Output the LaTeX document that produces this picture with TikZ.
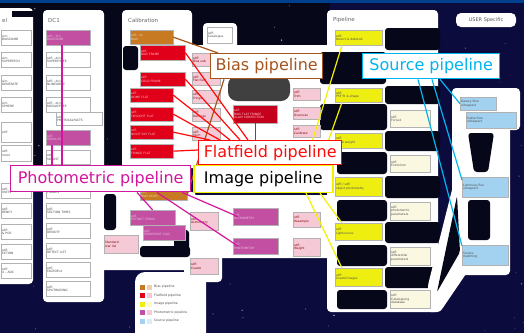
\documentclass[tikz,border=0pt]{standalone}
\usepackage{fontspec}
\setmainfont{DejaVu Sans}
\usetikzlibrary{calc}
\definecolor{bgC}{HTML}{0B0B3E}
\definecolor{cutC}{HTML}{07071A}
\definecolor{orC}{HTML}{C87A22}
\definecolor{redC}{HTML}{E0001A}
\definecolor{dredC}{HTML}{C4001C}
\definecolor{magC}{HTML}{C24FA2}
\definecolor{pinkC}{HTML}{F5CAD6}
\definecolor{yelC}{HTML}{EEEE10}
\definecolor{creamC}{HTML}{FBF8E2}
\definecolor{blueC}{HTML}{A2D2F0}
\definecolor{biasC}{HTML}{A5541C}
\definecolor{flatC}{HTML}{FF0A0A}
\definecolor{srcC}{HTML}{00B4EE}
\definecolor{photC}{HTML}{D2169E}
\definecolor{imgC}{HTML}{F2F200}
\newcommand\mybox[6]{\node[#1, minimum height=#5pt, text width=#4pt] (#2) at (#3) {#6};}
\pgfdeclarelayer{fg}
\pgfsetlayers{main,fg}
\begin{document}
\begin{tikzpicture}[x=1pt,y=-1pt,
  bx/.style={anchor=north west, draw=black!30, line width=0.3pt, inner sep=1pt, align=left, font=\fontsize{3}{3.5}\selectfont, text=black!70},
  wb/.style={bx, fill=white},
  mb/.style={bx, fill=magC, text=white!65!magC},
  rb/.style={bx, fill=redC, text=white!75!redC},
  ob/.style={bx, fill=orC, text=white!70!orC},
  pb/.style={bx, fill=pinkC, text=red!50!black},
  yb/.style={bx, fill=yelC},
  cb/.style={bx, fill=creamC},
  lb/.style={bx, fill=blueC},
  db/.style={bx, fill=dredC, text=white!80!red},
  pnl/.style={fill=white, rounded corners=4pt},
  cut/.style={fill=cutC, rounded corners=3pt},
  callout/.style={anchor=north west, draw, fill=white, line width=1.4pt, font=\fontsize{16}{18}\selectfont, inner sep=0pt},
  lead/.style={line width=1.2pt},
  hdr/.style={font=\fontsize{5.5}{6}\selectfont, text=black!60, anchor=west, inner sep=0pt}
]
\useasboundingbox (0,0) rectangle (524,333);
% background
\fill[bgC] (0,0) rectangle (524,333);
\fill[cutC] (0,0) rectangle (330,170);
\fill[blue!55!cyan!55!black] (0,0) rectangle (524,2.5);
\pgfmathsetseed{42}
\foreach \i in {1,...,150}{
  \pgfmathsetmacro\sx{rnd*524}
  \pgfmathsetmacro\sy{rnd*333}
  \pgfmathsetmacro\sr{0.3+0.6*rnd}
  \pgfmathsetmacro\so{0.25+0.6*rnd}
  \fill[white, opacity=\so] (\sx,\sy) circle[radius=\sr pt];
}
% panels
\fill[pnl] (-6,8) rectangle (33,284);
\fill[cutC] (12,11) rectangle (45,17);
\fill[pnl] (43,10) rectangle (104,302);
\fill[pnl] (122,10) rectangle (192,168);
\fill[cut] (123,46) rectangle (138,70);
\fill[pnl] (100,192) rectangle (196,270);
\fill[cut] (104,194) rectangle (116,230);
\fill[pnl] (184,45) rectangle (332,168);
\fill[pnl] (203,23) rectangle (237,50);
\fill[black!75, rounded corners=9pt] (228,76) rectangle (290,101);
\fill[pnl] (184,195) rectangle (332,258);
\fill[pnl] (184,250) rectangle (222,282);
\fill[cut] (174,230) rectangle (189,250);
\fill[cut] (140,246) rectangle (190,257);
\fill[pnl] (327,10) rectangle (438,312);
\foreach \a/\b/\c/\d in {385/28/440/50, 320/52/386/84, 385/86/440/104, 320/104/387/130, 385/131/440/151, 337/152/387/174, 385/176/440/198, 337/200/387/221, 385/222/440/243, 337/245/387/266, 385/267/440/288, 337/290/387/309}
  \fill[cut] (\a,\b) rectangle (\c,\d);
\fill[pnl] (452,88) rectangle (520,130);
\fill[pnl] (452,120) rectangle (510,275);
\fill[white, rounded corners=3pt] (428,312) -- (428,285) -- (455,178) -- (470,178) -- (470,268) -- (440,312) -- cycle;
\fill[cutC, rounded corners=2pt] (437,292) -- (457,196) -- (460,252) -- cycle;
\fill[cut] (468,133) -- (494,133) -- (488,172) -- (474,172) -- cycle;
\fill[cut] (468,200) rectangle (490,240);
\fill[white, rounded corners=10pt] (135,272) rectangle (206,345);
% headers
\node[hdr] (hL) at (2,20) {el};
\node[hdr] (hD) at (48,20) {DC1};
\node[hdr] (hC) at (128,20) {Calibration};
\node[hdr] (hP) at (333,20) {Pipeline};
\node[fill=white, rounded corners=5pt, font=\fontsize{5}{6}\selectfont, text=black!65, minimum width=60pt, minimum height=14pt, inner sep=1pt] (user) at (486,20) {USER Specific};
% left column
\mybox{wb}{L1}{1,30}{28}{15}{sim\\BIASCOMB}
\mybox{wb}{L2}{1,52}{28}{15}{sim\\SUPERTECH}
\mybox{wb}{L3}{1,75}{28}{15}{sim\\GENERATE}
\mybox{wb}{L4}{1,97}{28}{15}{sim\\SPHERE}
\mybox{wb}{L5}{1,122}{28}{20}{sdfl\\ }
\mybox{wb}{L6}{1,145}{28}{16}{sdfl\\ment}
\mybox{wb}{L7}{1,183}{28}{15}{sdfl\\UNITS}
\mybox{wb}{L8}{1,203}{28}{15}{sdfl\\RENCY}
\mybox{wb}{L9}{1,224}{28}{15}{sdfl\\\& POS}
\mybox{wb}{L10}{1,244}{28}{15}{sdfl\\ECTION}
\mybox{wb}{L11}{1,263}{28}{15}{sdfl\\4 -- ADC}
% DC1
\mybox{mb}{D1}{46,30}{42}{15}{sdfl - dc1\\BIASCOMB}
\mybox{wb}{D2}{46,52}{42}{15}{sdfl - dc1\\SUPERTHREE}
\mybox{wb}{D3}{46,75}{42}{15}{sdfl - dc1\\NLINEARIZE}
\mybox{wb}{D4}{46,97}{42}{15}{sdfl - dc1\\MOSAICPREP}
\mybox{wb}{D5}{56,112}{44}{13}{sdfl\\PHOTOCALFACTS}
\mybox{mb}{D6}{46,130}{42}{15}{sdfl\\OBSVLIST}
\mybox{wb}{D7}{46,150}{42}{14}{sdfl\\SKYLIST}
\mybox{wb}{D8}{46,183}{42}{15}{sdfl\\FRAMES}
\mybox{wb}{D9}{46,203}{42}{15}{sdfl\\SECTION TIMES}
\mybox{wb}{D10}{46,223}{42}{15}{sdfl\\DENSITY}
\mybox{wb}{D11}{46,243}{42}{15}{sdfl\\DETECT LIST}
\mybox{wb}{D12}{46,262}{42}{15}{sdfl\\FACEOFLX}
\mybox{wb}{D13}{46,281}{42}{15}{sdfl\\SPLITBIASING}
% Calibration
\mybox{ob}{C1}{130,30}{41}{14}{sdfl - dc\\BIAS}
\mybox{rb}{C2}{140,45}{43}{15}{sdfl\\BIAS FRAME}
\mybox{rb}{C3}{140,72}{43}{14}{sdfl\\COLD FRAME}
\mybox{rb}{C4}{130,88}{41}{14}{sdfl\\DOME FLAT}
\mybox{rb}{C5}{130,107}{41}{14}{sdfl\\TWILIGHT FLAT}
\mybox{rb}{C6}{130,125}{41}{14}{sdfl\\NIGHT SKY FLAT}
\mybox{rb}{C7}{130,144}{41}{14}{sdfl\\FRINGE FLAT}
\mybox{ob}{C8}{140,188}{45}{12}{sdfl\\BIAS LEVEL}
\mybox{mb}{C9}{130,210}{43}{15}{sdfl\\EXTINCT STAND}
\mybox{mb}{C10}{143,225}{40}{15}{sdfl\\ZEROPOINT CALC}
\mybox{pb}{C11}{104,235}{32}{18}{Standard\\star list}
% centre
\mybox{wb}{T1}{207,27}{23}{16}{sdfl\\Catalogue}
\mybox{pb}{M1}{192,53}{26}{13}{sdfl\\Bias sub}
\mybox{pb}{M2}{192,72}{26}{13}{sdfl\\Flat field}
\mybox{pb}{M3}{192,90}{26}{13}{sdfl\\Fringe}
\mybox{pb}{M4}{192,108}{26}{13}{sdfl\\Defringe}
\mybox{pb}{M5}{192,127}{26}{13}{sdfl\\Illum}
\mybox{pb}{N1}{293,88}{25}{12}{sdfl\\Trim}
\mybox{pb}{N2}{293,107}{25}{12}{sdfl\\Overscan}
\mybox{pb}{N3}{293,125}{25}{12}{sdfl\\Calibrate}
\mybox{db}{DR}{233,105}{42}{18}{sdfl\\BIAS FLAT FRINGE\\ILLUM CORRECTION}
\mybox{pb}{P1}{190,212}{26}{18}{sdfl\\Astrometry}
\mybox{pb}{P2}{190,258}{26}{16}{sdfl\\Coadd}
\mybox{mb}{I1}{233,208}{43}{17}{sdfl\\ASTROMETRY}
\mybox{mb}{I2}{233,238}{43}{16}{sdfl\\PHOTOMETRY}
\mybox{pb}{R1}{293,212}{25}{15}{sdfl\\Resample}
\mybox{pb}{R2}{293,238}{25}{18}{sdfl\\Weight}
% pipeline
\mybox{yb}{Y1}{335,30}{45}{15}{sdfl\\Detect \& deblend}
\mybox{yb}{Y2}{335,88}{45}{14}{sdfl\\PSF fit \& shape}
\mybox{yb}{Y3}{335,133}{45}{15}{sdfl\\Local weight}
\mybox{yb}{Y4}{335,177}{45}{19}{sdfl / sdfl\\object photometry}
\mybox{yb}{Y5}{335,223}{45}{17}{sdfl\\Lightcurves}
\mybox{yb}{Y6}{335,268}{45}{18}{sdfl\\Coadd images}
\mybox{cb}{K1}{390,110}{38}{17}{sdfl\\Forced}
\mybox{cb}{K2}{390,155}{38}{17}{sdfl\\Extinction}
\mybox{cb}{K3}{390,202}{38}{18}{sdfl\\photometric\\parameters}
\mybox{cb}{K4}{390,247}{38}{18}{sdfl\\differential\\parameters}
\mybox{cb}{K5}{390,290}{38}{18}{sdfl\\Cataloguing\\database}
% user specific
\mybox{lb}{B1}{460,97}{34}{13}{Galaxy flow\\ultraspect}
\mybox{lb}{B2}{466,112}{48}{16}{Cable flow\\ultraspect}
\mybox{lb}{B3}{462,177}{44}{20}{Luminous flux\\ultraspect}
\mybox{lb}{B4}{462,245}{44}{20}{Source\\matching}
% legend
\foreach \n/\dc/\lc/\t [count=\k] in {
  g1/orC/orC!35/Bias pipeline,
  g2/redC/pinkC/Flatfield pipeline,
  g3/yelC/yelC!25/Image pipeline,
  g4/magC/pinkC/Photometric pipeline,
  g5/blueC/blueC!40/Source pipeline}{
  \fill[\dc] (140,{276+8.5*\k}) rectangle ++(5,5);
  \fill[\lc] (147,{276+8.5*\k}) rectangle ++(5,5);
  \node[anchor=west, inner sep=0pt, font=\fontsize{3.2}{3.5}\selectfont, text=black!70] (\n) at (154,{278.5+8.5*\k}) {\t};
}
% callouts
\begin{pgfonlayer}{fg}
\node[callout, draw=biasC, text=biasC, minimum width=112pt, minimum height=25pt] (bias) at (210,53) {Bias pipeline};
\node[callout, draw=flatC, text=flatC, minimum width=143pt, minimum height=24pt] (flat) at (198,140) {Flatfield pipeline};
\node[callout, draw=srcC, text=srcC, minimum width=137pt, minimum height=25pt] (source) at (362,53) {Source pipeline};
\node[callout, draw=photC, text=photC, minimum width=180pt, minimum height=26pt] (photo) at (10,165) {Photometric pipeline};
\node[callout, draw=imgC, text=black, line width=1.6pt, minimum width=139pt, minimum height=27pt] (image) at (193,164.5) {Image pipeline};
\end{pgfonlayer}
% bias leaders
\draw[lead, biasC] ([xshift=8pt]bias.north west) -- (C1.east);
\draw[lead, biasC] ([xshift=14pt]bias.south west) -- (C8.east);
% flatfield leaders
\draw[lead, flatC] ([xshift=50pt]flat.north west) -- (C2.east);
\draw[lead, flatC] ([xshift=42pt]flat.north west) -- (C3.east);
\draw[lead, flatC] ([xshift=32pt]flat.north west) -- (C4.east);
\draw[lead, flatC] ([xshift=22pt]flat.north west) -- (C5.east);
\draw[lead, flatC] ([xshift=12pt]flat.north west) -- (C6.east);
\draw[lead, flatC] ([yshift=-10pt]flat.north west) -- (C7.east);
\draw[lead, flatC] (DR.south) -- (DR.south |- flat.north);
% source leaders
\draw[lead, srcC] ([xshift=78pt]source.south west) -- (B1.west);
\draw[lead, srcC] ([xshift=70pt]source.south west) -- ([yshift=-3pt]B3.north west);
\draw[lead, srcC] ([xshift=56pt]source.south west) -- ([yshift=-1pt]B4.north west);
% photometric leaders
\coordinate (p1) at ([xshift=52pt]photo.north west);
\coordinate (p2) at ([xshift=42pt]photo.north west);
\draw[lead, photC] (p1) -- (p1 |- D1.south);
\draw[lead, photC] (p2) -- (p2 |- D6.south);
\draw[lead, photC] ([xshift=127pt]photo.south west) -- (C9.north);
\draw[lead, photC] ([xshift=147pt]photo.south west) -- ([xshift=5pt]I2.west);
\draw[lead, photC] ([xshift=172pt]photo.south west) -- ([xshift=5pt]I1.west);
% image leaders
\draw[lead, imgC] ([xshift=112pt]image.north west) -- ([xshift=7pt]Y1.south west);
\draw[lead, imgC] ([xshift=127pt]image.north west) -- ([xshift=7pt]Y2.south west);
\draw[lead, imgC] ([xshift=137pt]image.north west) -- ([xshift=5pt]Y3.south west);
\draw[lead, imgC] ([xshift=127pt]image.south west) -- ([xshift=7pt]Y5.north west);
\draw[lead, imgC] ([xshift=113pt]image.south west) -- ([xshift=7pt]Y6.north west);
\end{tikzpicture}
\end{document}
